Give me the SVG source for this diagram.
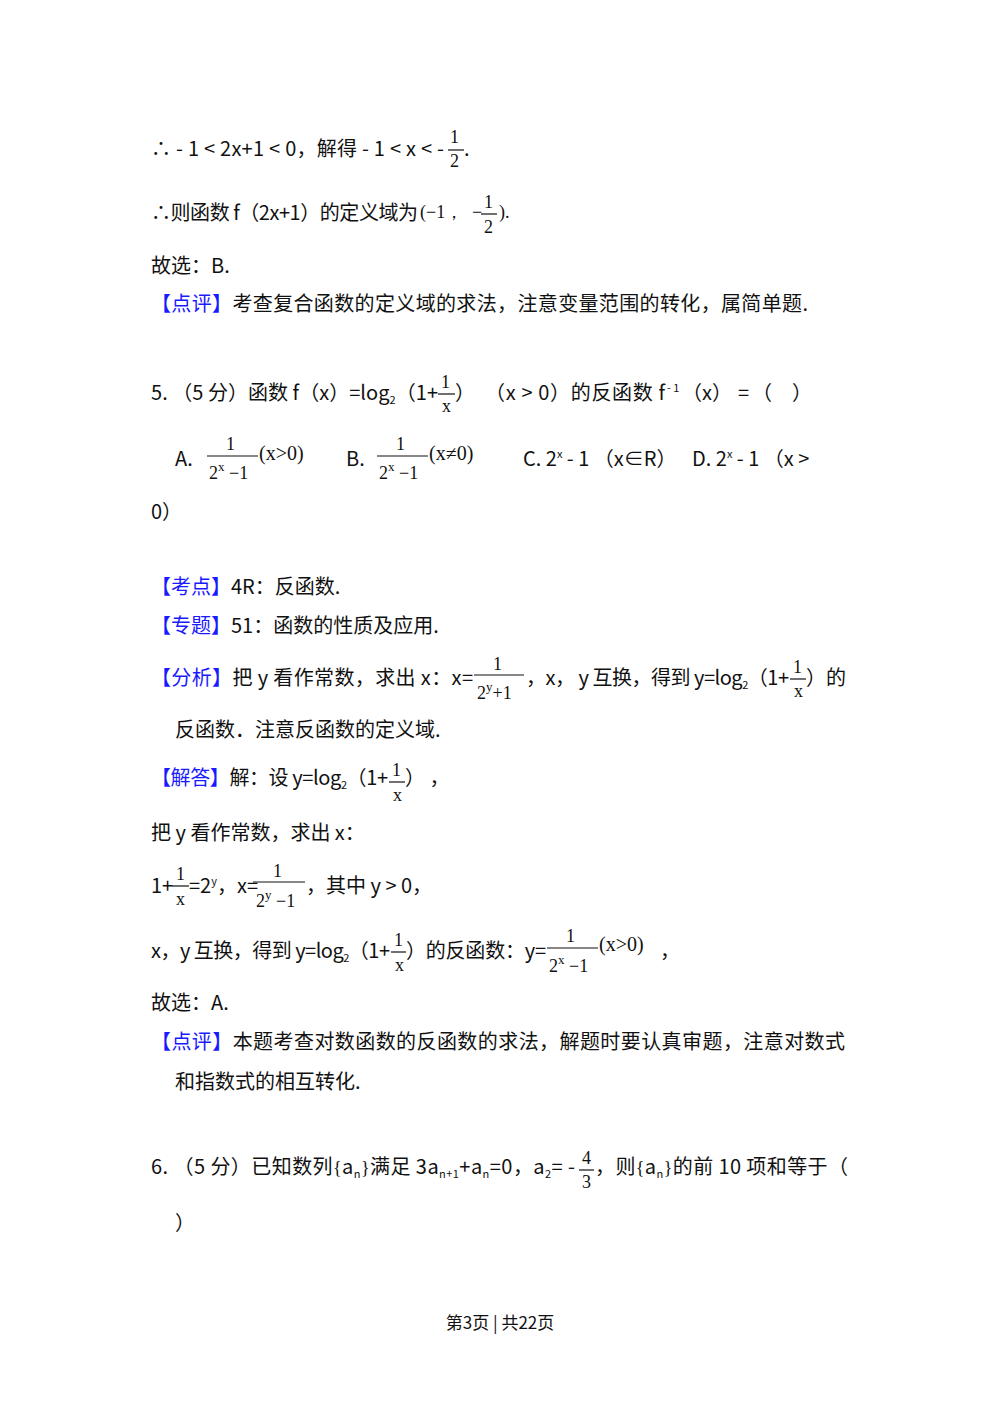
<svg xmlns="http://www.w3.org/2000/svg" width="1000" height="1416" viewBox="0 0 1000 1416" xml:space="preserve">
<style>
text{font-family:"Noto Sans CJK SC","Noto Sans",sans-serif;font-size:20px;fill:#111}
.b{fill:#1a1aff}
.f{font-family:"Liberation Serif","DejaVu Serif",serif;font-size:18px}
.p{font-family:"Liberation Serif","DejaVu Serif",serif;font-size:20px}
.s{font-size:11px}
.bar{stroke:#111;stroke-width:1.2}
.ft{font-size:17px}
</style>
<rect width="1000" height="1416" fill="#fff"/>
<g id="l1">
<text x="151" y="156" textLength="293" lengthAdjust="spacing">∴ - 1 &lt; 2x+1 &lt; 0，解得 - 1 &lt; x &lt; -</text>
<text class="f" x="450" y="143">1</text><line class="bar" x1="448" y1="150" x2="464" y2="150"/><text class="f" x="450" y="167">2</text><text x="464" y="156">.</text>
</g>
<g id="l2">
<text x="151" y="220" textLength="267" lengthAdjust="spacing">∴则函数 f（2x+1）的定义域为</text>
<text class="f" x="420" y="218">(−1，</text><text class="f" x="472" y="218">−</text><text class="f" x="484" y="208">1</text><line class="bar" x1="481" y1="214" x2="497" y2="214"/><text class="f" x="484" y="233">2</text><text class="f" x="499" y="218">).</text>
</g>
<g id="l3"><text x="151" y="273">故选：B.</text></g>
<g id="l4"><text x="151" y="311" textLength="657" lengthAdjust="spacing"><tspan class="b">【点评】</tspan>考查复合函数的定义域的求法，注意变量范围的转化，属简单题.</text></g>
<g id="q5">
<text x="151" y="400" textLength="287" lengthAdjust="spacing">5.  （5 分）函数 f（x）=log<tspan class="s" dy="4">2</tspan><tspan dy="-4">（1+</tspan></text>
<text class="f" x="441" y="388">1</text><line class="bar" x1="438" y1="394" x2="455" y2="394"/><text class="f" x="442" y="412">x</text>
<text x="455" y="400">）</text>
<text x="485" y="400" textLength="180" lengthAdjust="spacing">（x &gt; 0）的反函数 f</text>
<text class="s" x="667" y="392">- 1</text>
<text x="682" y="400">（x）</text>
<text x="738" y="400">=</text>
<text x="752" y="400">（</text>
<text x="792" y="400">）</text>
</g>
<g id="opts">
<text x="175" y="466">A.</text>
<text class="f" x="226" y="450">1</text><line class="bar" x1="207" y1="456" x2="258" y2="456"/><text class="f" x="209" y="479">2<tspan font-size="13" dy="-8">x</tspan><tspan dy="8"> −1</tspan></text><text class="p" x="259" y="460">(x&gt;0)</text>
<text x="346" y="466">B.</text>
<text class="f" x="396" y="450">1</text><line class="bar" x1="377" y1="456" x2="428" y2="456"/><text class="f" x="379" y="479">2<tspan font-size="13" dy="-8">x</tspan><tspan dy="8"> −1</tspan></text><text class="p" x="429" y="460">(x≠0)</text>
<text x="523" y="466">C.  2<tspan class="s" dy="-8">x</tspan><tspan dy="8"> - 1 （x∈R）</tspan></text>
<text x="692" y="466">D.  2<tspan class="s" dy="-8">x</tspan><tspan dy="8"> - 1 （x &gt;</tspan></text>
<text x="151" y="519">0）</text>
</g>
<g id="kd"><text x="151" y="594"><tspan class="b">【考点】</tspan>4R：反函数.</text></g>
<g id="zt"><text x="151" y="633"><tspan class="b">【专题】</tspan>51：函数的性质及应用.</text></g>
<g id="fx">
<text x="151" y="685" textLength="322" lengthAdjust="spacing"><tspan class="b">【分析】</tspan>把 y 看作常数，求出 x：x=</text>
<text class="f" x="493" y="670">1</text><line class="bar" x1="474" y1="675" x2="524" y2="675"/><text class="f" x="477" y="699">2<tspan font-size="13" dy="-8">y</tspan><tspan dy="8">+1</tspan></text>
<text x="526" y="685" textLength="263" lengthAdjust="spacing">，x， y 互换，得到 y=log<tspan class="s" dy="4">2</tspan><tspan dy="-4">（1+</tspan></text>
<text class="f" x="793" y="673">1</text><line class="bar" x1="790" y1="679" x2="806" y2="679"/><text class="f" x="794" y="697">x</text>
<text x="806" y="685">）的</text>
<text x="175" y="737">反函数．注意反函数的定义域.</text>
</g>
<g id="jd">
<text x="151" y="785" textLength="237" lengthAdjust="spacing"><tspan class="b">【解答】</tspan>解：设 y=log<tspan class="s" dy="4">2</tspan><tspan dy="-4">（1+</tspan></text>
<text class="f" x="392" y="776">1</text><line class="bar" x1="389" y1="782" x2="405" y2="782"/><text class="f" x="393" y="801">x</text>
<text x="405" y="785">）  ，</text>
<text x="151" y="840">把 y 看作常数，求出 x：</text>
<text x="151" y="893">1+</text><text class="f" x="176" y="880">1</text><line class="bar" x1="172" y1="886" x2="189" y2="886"/><text class="f" x="176" y="905">x</text>
<text x="189" y="893">=2<tspan class="s" dy="-8">y</tspan><tspan dy="8">，x=</tspan></text>
<text class="f" x="273" y="877">1</text><line class="bar" x1="253" y1="882" x2="305" y2="882"/><text class="f" x="256" y="907">2<tspan font-size="13" dy="-8">y</tspan><tspan dy="8"> −1</tspan></text>
<text x="306" y="893">，其中 y &gt; 0，</text>
<text x="151" y="958" textLength="239" lengthAdjust="spacing">x，y 互换，得到 y=log<tspan class="s" dy="4">2</tspan><tspan dy="-4">（1+</tspan></text>
<text class="f" x="394" y="946">1</text><line class="bar" x1="391" y1="952" x2="406" y2="952"/><text class="f" x="395" y="971">x</text>
<text x="406" y="958" textLength="140" lengthAdjust="spacing">）的反函数：y=</text>
<text class="f" x="566" y="942">1</text><line class="bar" x1="547" y1="948" x2="598" y2="948"/><text class="f" x="549" y="972">2<tspan font-size="13" dy="-8">x</tspan><tspan dy="8"> −1</tspan></text><text class="p" x="599" y="951">(x&gt;0)</text><text x="660" y="958">，</text>
<text x="151" y="1010">故选：A.</text>
</g>
<g id="dp">
<text x="151" y="1049" textLength="694" lengthAdjust="spacing"><tspan class="b">【点评】</tspan>本题考查对数函数的反函数的求法，解题时要认真审题，注意对数式</text>
<text x="175" y="1089">和指数式的相互转化.</text>
</g>
<g id="q6">
<text x="151" y="1174" textLength="424" lengthAdjust="spacing">6.  （5 分）已知数列<tspan class="f">{</tspan>a<tspan class="s" dy="4">n</tspan><tspan class="f" dy="-4">}</tspan>满足 3a<tspan class="s" dy="4">n+1</tspan><tspan dy="-4">+a</tspan><tspan class="s" dy="4">n</tspan><tspan dy="-4">=0，a</tspan><tspan class="s" dy="4">2</tspan><tspan dy="-4">= -</tspan></text>
<text class="f" x="582" y="1164">4</text><line class="bar" x1="579" y1="1170" x2="594" y2="1170"/><text class="f" x="582" y="1188">3</text>
<text x="595" y="1174" textLength="253" lengthAdjust="spacing">，则<tspan class="f">{</tspan>a<tspan class="s" dy="4">n</tspan><tspan class="f" dy="-4">}</tspan>的前 10 项和等于（</text>
<text x="175" y="1230">）</text>
</g>
<g id="footer"><text class="ft" x="500" y="1329" text-anchor="middle">第3页 | 共22页</text></g>
</svg>
